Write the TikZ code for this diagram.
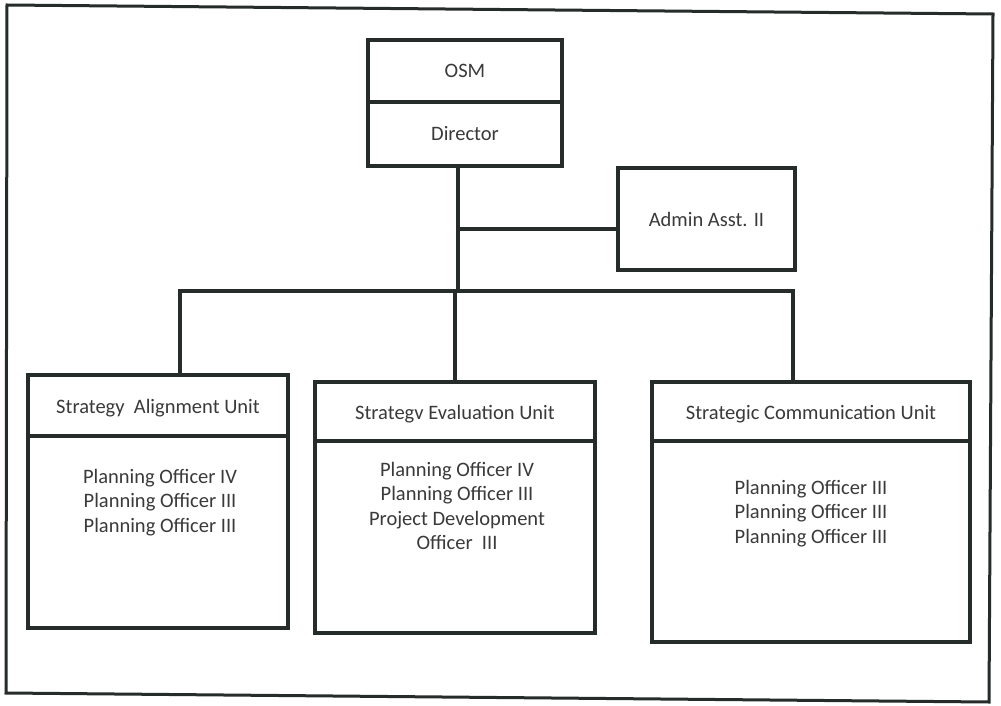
\documentclass[tikz,border=0pt]{standalone}
\usepackage{fontspec}
\setmainfont{Carlito}
\definecolor{ink}{HTML}{262C29}
\definecolor{txt}{HTML}{3A3A3A}
\begin{document}
\begin{tikzpicture}[x=1pt,y=-1pt,
  box/.style={draw=ink,line width=4pt,rectangle,inner sep=0pt,text=txt,
    font=\fontsize{20.5}{24}\selectfont},
  head/.style={box,text height=15pt,text depth=0pt},
  body/.style={inner sep=0pt,align=center,anchor=north,text=txt,
    font=\fontsize{20.5}{24.5}\selectfont},
  link/.style={draw=ink,line width=4pt}]
\fill[white] (0,0) rectangle (1001,706);
\useasboundingbox (0,0) rectangle (1001,706);
% outer frame
\draw[ink,line width=3pt,line join=miter] (7,5) -- (993,14) -- (989,702) -- (6,693) -- cycle;
% top
\node[box,minimum width=194pt,minimum height=62pt] (osm) at (465,71) {OSM};
\node[box,minimum width=194pt,minimum height=64pt] (dir) at (465,134) {Director};
\node[box,minimum width=177pt,minimum height=102pt] (admin) at (706.5,219) {Admin Asst. II};
% units
\node[head,minimum width=260pt,minimum height=61pt] (sauh) at (158,405.5) {Strategy\ \ Alignment Unit};
\node[box,minimum width=260pt,minimum height=192pt] (saub) at (158,532) {};
\node[head,minimum width=280pt,minimum height=59pt] (seuh) at (455,411.5) {Strategv Evaluation Unit};
\node[box,minimum width=280pt,minimum height=192pt] (seub) at (455,537) {};
\node[head,minimum width=318pt,minimum height=59pt] (scuh) at (811,411.5) {Strateɡic Communication Unit};
\node[box,minimum width=318pt,minimum height=201pt] (scub) at (811,541.5) {};
% body texts
\node[body] (saut) at (160,469) {Planning Officer IV\\Planning Officer III\\Planning Officer III};
\node[body] (seut) at (457,462) {Planning Officer IV\\Planning Officer III\\Project Development\\Officer\ \ III};
\node[body] (scut) at (811,480) {Planning Officer III\\Planning Officer III\\Planning Officer III};
% connectors
\coordinate (j) at (458,291);
\coordinate (ja) at (458,229);
\coordinate (busL) at (180,291);
\coordinate (busR) at (793,291);
\coordinate (dm) at (455,291);
\draw[link] (dir.south -| j) -- (j);
\draw[link] (ja) -- (admin.west |- ja);
\draw[link,line cap=rect] (busL) -- (busR);
\draw[link] (busL) -- (sauh.north -| busL);
\draw[link] (dm) -- (seuh.north -| dm);
\draw[link] (busR) -- (scuh.north -| busR);
\end{tikzpicture}
\end{document}
